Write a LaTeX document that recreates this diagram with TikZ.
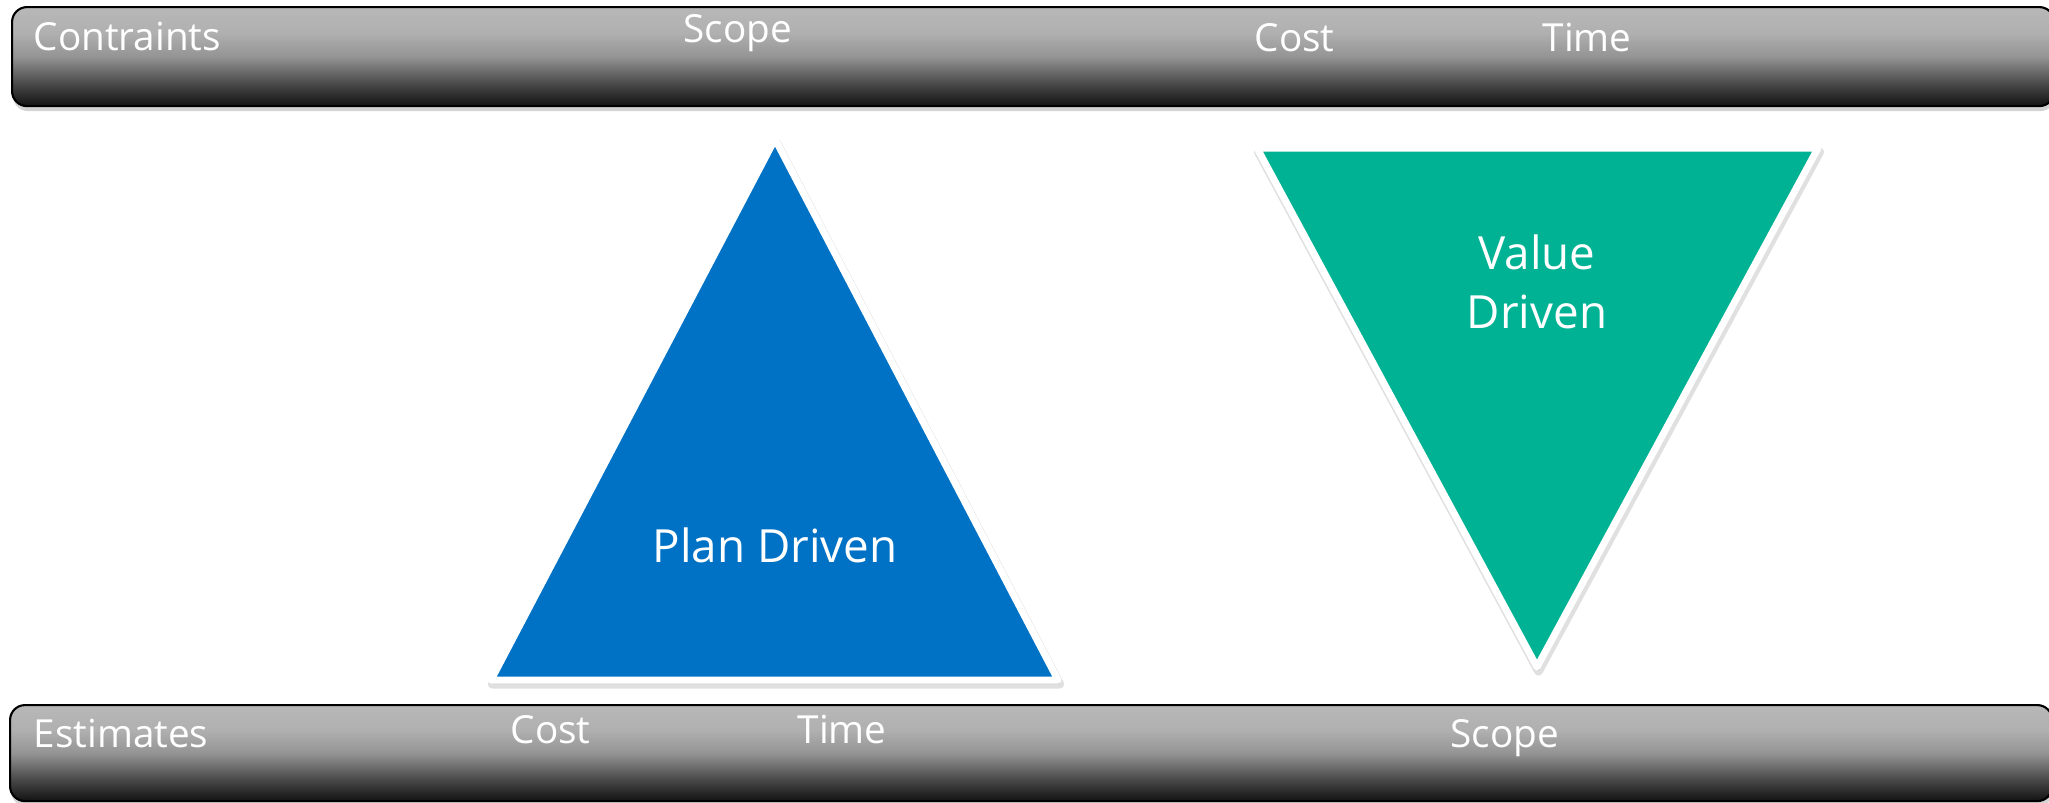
\documentclass[tikz,border=0pt]{standalone}
\usepackage{fontspec}
\setmainfont{Open Sans}
\usetikzlibrary{positioning,shadows}

\definecolor{planblue}{HTML}{0072C6}
\definecolor{valuegreen}{HTML}{00B294}
\pgfdeclareverticalshading{barshade}{100bp}{color(0bp)=(black!93); color(25bp)=(black!93); color(36bp)=(black!72); color(50bp)=(black!42); color(62bp)=(black!31); color(75bp)=(black!28); color(100bp)=(black!28)}

\begin{document}
\begin{tikzpicture}[x=0.01cm,y=-0.01cm,
  bar/.style={draw=black, line width=0.6pt, rounded corners=0.15cm, shading=barshade,
    anchor=north west, minimum width=20.41cm,
    drop shadow={shadow xshift=0.01cm, shadow yshift=-0.05cm, opacity=0.35}},
  bartext/.style={text=white, font=\fontsize{11}{13}\selectfont, inner sep=0pt, anchor=base west},
  tri/.style={draw=white, line width=0.07cm, line join=round,
    preaction={draw=black, fill=black, line width=0.09cm, line join=round, opacity=0.12,
      transform canvas={shift={(0.015cm,-0.04cm)}}}},
  tritext/.style={text=white, font=\fontsize{13}{16.7}\selectfont, align=center}]
   \useasboundingbox (0,0) rectangle (2049,802);

   % the two bars
   \node[bar, minimum height=0.99cm] (constraints) at (11,6) {};
   \node[bar, minimum height=0.96cm] (estimates) at (9,704) {};

   \node[bartext] (con)      at (33,50)   {Contraints};
   \node[bartext] (conscope) at (683,42)  {Scope};
   \node[bartext] (concost)  at (1254,51) {Cost};
   \node[bartext] (contime)  at (1542,51) {Time};

   \node[bartext] (est)      at (33,747)  {Estimates};
   \node[bartext] (estcost)  at (510,743) {Cost};
   \node[bartext] (esttime)  at (797,743) {Time};
   \node[bartext] (estscope) at (1450,747) {Scope};

   % triangles
   \coordinate (pa) at (775,139);
   \coordinate (pl) at (491,680);
   \coordinate (pr) at (1058,680);
   \coordinate (vl) at (1257,148);
   \coordinate (vr) at (1818,148);
   \coordinate (vt) at (1537,667);

   \filldraw[tri, fill=planblue] (pa) -- (pr) -- (pl) -- cycle;
   \filldraw[tri, fill=valuegreen] (vl) -- (vr) -- (vt) -- cycle;

   \node[tritext, anchor=base] (plan)  at (775,562)  {Plan Driven};
   \node[tritext] (value) at (1537,282) {Value\\Driven};
\end{tikzpicture}
\end{document}
